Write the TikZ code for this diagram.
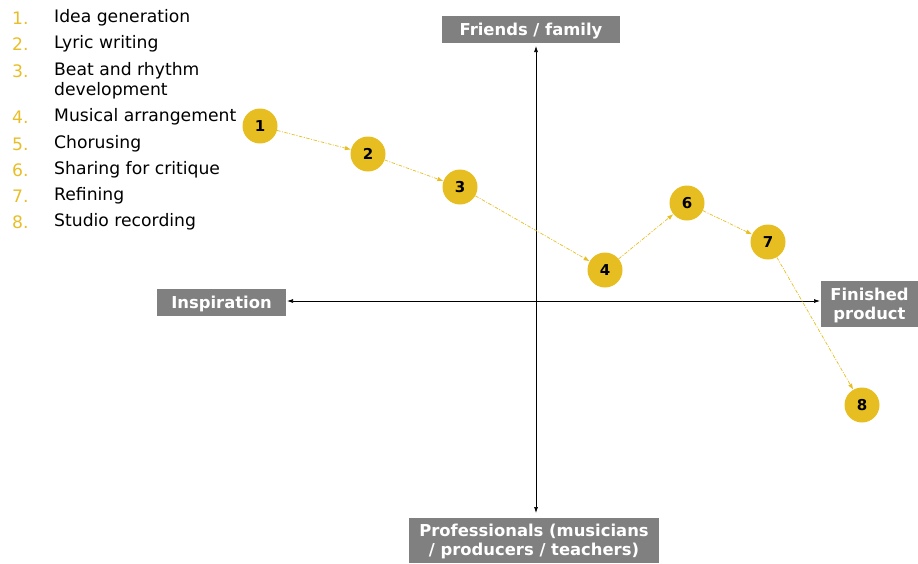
\documentclass[tikz,border=0pt]{standalone}
\usepackage{fontspec}
\setmainfont{DejaVu Sans}
\usetikzlibrary{arrows.meta}
\definecolor{gold}{RGB}{230,190,34}
\definecolor{legendgold}{RGB}{232,190,40}
\definecolor{boxgray}{RGB}{128,128,128}
\begin{document}
\begin{tikzpicture}[x=1pt,y=-1pt,
  axislabel/.style={fill=boxgray,text=white,font=\bfseries\fontsize{16.4}{19}\selectfont,
    inner sep=0pt,align=center,text depth=0pt},
  stage/.style={circle,fill=gold,minimum size=35pt,inner sep=0pt,
    font=\bfseries\fontsize{15}{16}\selectfont},
  flow/.style={gold,line width=0.7pt,dash pattern=on 3.5pt off 1.5pt on 1pt off 1.5pt,
    -{Latex[length=6pt,width=4.5pt]}},
  axis/.style={black,line width=0.7pt,{Latex[length=6pt,width=4pt]}-{Latex[length=6pt,width=4pt]}},
  legnum/.style={anchor=west,text=legendgold,font=\fontsize{17.2}{20}\selectfont,inner sep=0pt},
  legtext/.style={anchor=west,font=\fontsize{17.2}{20}\selectfont,inner sep=0pt,align=left}]
\useasboundingbox (0,0) rectangle (918,563);

% axis labels
\node[axislabel,minimum width=178pt,minimum height=27pt] (top) at (531,29) {Friends / family};
\node[axislabel,minimum width=250pt,minimum height=45pt] (bottom) at (534,540)
  {Professionals (musicians\\/ producers / teachers)};
\node[axislabel,minimum width=129pt,minimum height=27pt] (left) at (221.5,302) {Inspiration};
\node[axislabel,minimum width=97pt,minimum height=46pt] (right) at (869.5,304) {Finished\\product};

% axes
\coordinate (ytop) at (536,46);
\coordinate (ybot) at (536,513);
\coordinate (xl) at (287,301);
\coordinate (xr) at (820,301);
\draw[axis] (ybot) -- (ytop);
\draw[axis] (xl) -- (xr);

% legend
\foreach \n/\t/\y in {1/Idea generation/18,2/Lyric writing/44,4/Musical arrangement/117,
  5/Chorusing/144,6/Sharing for critique/170,7/Refining/196,8/Studio recording/222}{
  \node[legnum] (ln\n) at (12,\y) {\n.};
  \node[legtext] (lt\n) at (54,\y) {\t};
}
\node[legnum] (ln3) at (12,71) {3.};
\node[legtext] (lt3) at (54,81) {Beat and rhythm\\development};

% stages
\node[stage] (s1) at (260,126) {1};
\node[stage] (s2) at (368,154) {2};
\node[stage] (s3) at (460,187) {3};
\node[stage] (s4) at (605,270) {4};
\node[stage] (s6) at (687,203) {6};
\node[stage] (s7) at (768,242) {7};
\node[stage] (s8) at (862,405) {8};

% progression
\draw[flow] (s1) -- (s2);
\draw[flow] (s2) -- (s3);
\draw[flow] (s3) -- (s4);
\draw[flow] (s4) -- (s6);
\draw[flow] (s6) -- (s7);
\draw[flow] (s7) -- (s8);
\end{tikzpicture}
\end{document}
